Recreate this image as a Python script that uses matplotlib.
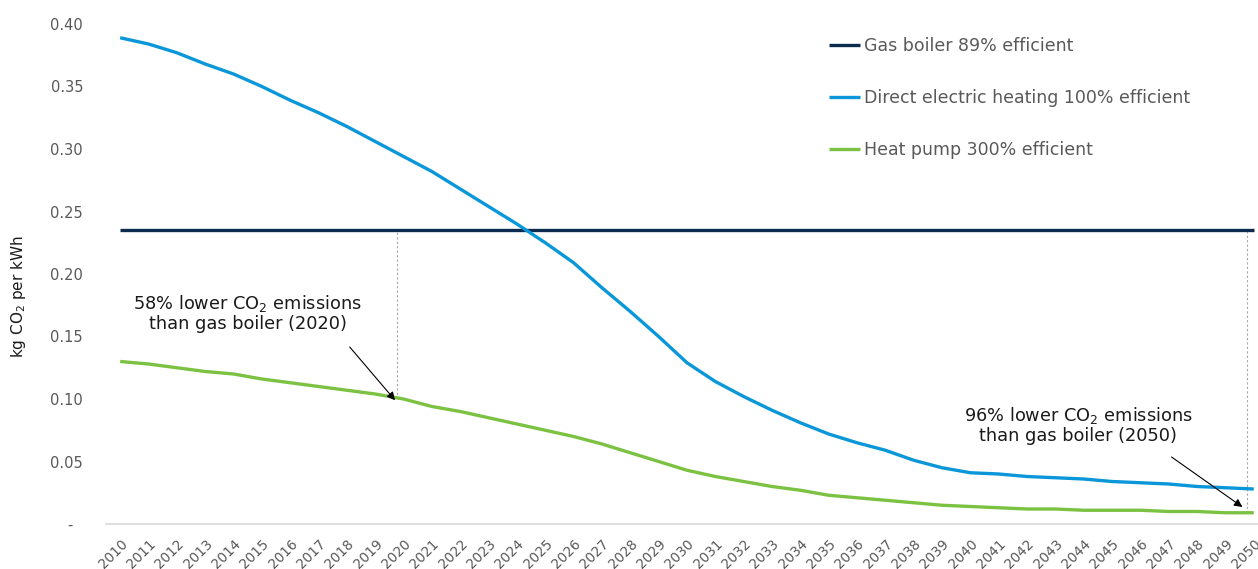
import numpy as np
import matplotlib.pyplot as plt

plt.rcParams["font.family"] = ["DejaVu Sans"]

years = list(range(2010, 2051))
gas_boiler = [0.235] * len(years)
direct_electric = [
    0.389, 0.384, 0.377, 0.368, 0.360, 0.350, 0.339, 0.329, 0.318, 0.306,
    0.294, 0.282, 0.268, 0.254, 0.240, 0.225, 0.209, 0.189, 0.170, 0.150,
    0.129, 0.114, 0.102, 0.091, 0.081, 0.072, 0.065, 0.059, 0.051, 0.045,
    0.041, 0.040, 0.038, 0.037, 0.036, 0.034, 0.033, 0.032, 0.030, 0.029,
    0.028,
]
heat_pump = [
    0.130, 0.128, 0.125, 0.122, 0.120, 0.116, 0.113, 0.110, 0.107, 0.104,
    0.100, 0.094, 0.090, 0.085, 0.080, 0.075, 0.070, 0.064, 0.057, 0.050,
    0.043, 0.038, 0.034, 0.030, 0.027, 0.023, 0.021, 0.019, 0.017, 0.015,
    0.014, 0.013, 0.012, 0.012, 0.011, 0.011, 0.011, 0.010, 0.010, 0.009,
    0.009,
]
labels = [
    "Gas boiler 89% efficient",
    "Direct electric heating 100% efficient",
    "Heat pump 300% efficient",
]
colors = ["#0c2c4f", "#0a97d9", "#7cc242"]

fig = plt.figure(figsize=(12.58, 5.69), dpi=100)
ax = fig.add_axes([106 / 1258, 1 - 524 / 569, 1 - 106 / 1258, 500 / 569])

for series, lab, col in zip([gas_boiler, direct_electric, heat_pump], labels, colors):
    ax.plot(years, series, color=col, lw=2.4, label=lab, solid_capstyle="butt")

# dotted guide lines from gas boiler down to heat pump
for yr, idx in [(2019.77, 10), (2049.75, 40)]:
    ax.plot([yr, yr], [heat_pump[idx], gas_boiler[idx]], color="#a6a6a6",
            lw=0.8, ls=(0, (2, 2)), zorder=1)

# annotations
ax.text(2014.5, 0.169, "58% lower CO$_2$ emissions\nthan gas boiler (2020)",
        ha="center", va="center", fontsize=12.8, color="#1a1a1a", linespacing=1.1)
ax.annotate("", xy=(2019.7, 0.099), xytext=(2018.1, 0.1416),
            arrowprops=dict(arrowstyle="-|>", color="black", lw=0.8,
                            shrinkA=0, shrinkB=0, mutation_scale=12))
ax.text(2043.8, 0.079, "96% lower CO$_2$ emissions\nthan gas boiler (2050)",
        ha="center", va="center", fontsize=12.8, color="#1a1a1a", linespacing=1.1)
ax.annotate("", xy=(2049.6, 0.0136), xytext=(2047.1, 0.0536),
            arrowprops=dict(arrowstyle="-|>", color="black", lw=0.8,
                            shrinkA=0, shrinkB=0, mutation_scale=12))

ax.set_xlim(2009.5, 2050.15)
ax.set_ylim(0, 0.40)
ax.set_xticks(years)
ax.set_xticklabels([str(y) for y in years], rotation=45, ha="right",
                   rotation_mode="anchor", fontsize=9.8, color="#595959")
ax.set_yticks(np.arange(0, 0.41, 0.05))
ax.set_yticklabels(["-  "] + [f"{v:.2f}" for v in np.arange(0.05, 0.41, 0.05)],
                   fontsize=10.5, color="#595959")
ax.tick_params(axis="both", length=0)
ax.tick_params(axis="y", pad=16.5)
ax.tick_params(axis="x", pad=9)
for s in ["top", "right", "left"]:
    ax.spines[s].set_visible(False)
ax.spines["bottom"].set_color("#d9d9d9")
ax.spines["bottom"].set_linewidth(1.2)
ax.set_ylabel("kg CO$_2$ per kWh", fontsize=11, color="#1a1a1a")
ax.yaxis.set_label_coords(-0.068, 0.454)

leg = ax.legend(loc="upper left", bbox_to_anchor=(829 / 1258, 1 - 37 / 569),
                bbox_transform=fig.transFigure, frameon=False,
                fontsize=12.5, handlelength=1.8, handletextpad=0.2,
                labelspacing=1.95, borderpad=0, borderaxespad=0)
for t in leg.get_texts():
    t.set_color("#595959")

fig.savefig("out.png", dpi=100)
